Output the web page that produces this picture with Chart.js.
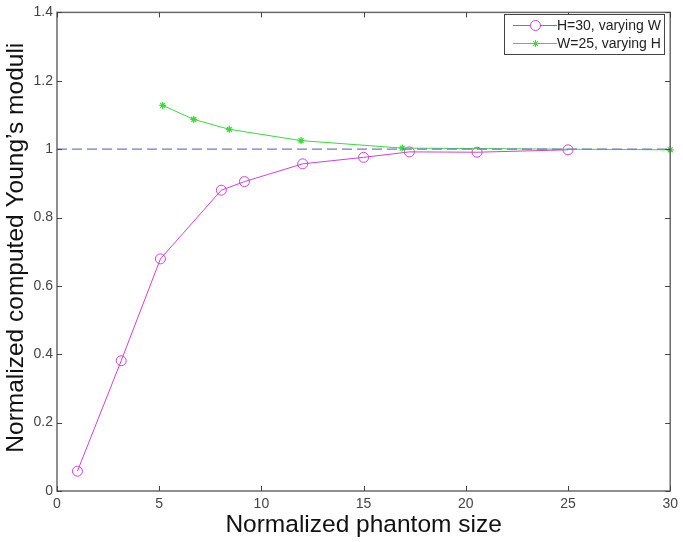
<!DOCTYPE html>
<html><head><meta charset="utf-8">
<script src="https://cdn.jsdelivr.net/npm/chart.js@4"></script>
<style>html,body{margin:0;padding:0;background:#fff}#c{display:block}</style>
</head><body>
<canvas id="c" width="683" height="542"></canvas>
<script>
const xTickValues=[0,5,10,15,20,25,30];
const yTickValues=[0,0.2,0.4,0.6,0.8,1,1.2,1.4];
const seriesNames=['H=30, varying W','W=25, varying H'];
const xH30=[1,3.14,5.06,8.04,9.17,12.02,15,17.24,20.55,25];
const yH30=[0.058,0.381,0.679,0.880,0.905,0.957,0.976,0.992,0.991,0.998];
const xW25=[5.17,6.69,8.43,11.94,16.89,30];
const yW25=[1.128,1.087,1.058,1.025,1.003,0.998];
const refX=[0,30];
const refY=[1,1];
const xTitle='Normalized phantom size';
const yTitle='Normalized computed Young\u2019s moduli';

const MAG='#d040d8', GRN='#38dc38', REF='#7676d0';
const pts=(xs,ys)=>xs.map((x,i)=>({x:x,y:ys[i]}));

const frame={
  id:'frame',
  afterDatasetsDraw(chart){
    const {ctx,chartArea:a,scales:{x,y}}=chart;
    ctx.save();
    ctx.strokeStyle='#6a6a6a';ctx.lineWidth=1.5;
    ctx.strokeRect(a.left,a.top,a.right-a.left,a.bottom-a.top);
    ctx.lineWidth=1;ctx.strokeStyle='#444';
    xTickValues.forEach(v=>{const p=Math.round(x.getPixelForValue(v))+0.5;
      ctx.beginPath();ctx.moveTo(p,a.bottom);ctx.lineTo(p,a.bottom-5);
      ctx.moveTo(p,a.top);ctx.lineTo(p,a.top+5);ctx.stroke();});
    yTickValues.forEach(v=>{const p=Math.round(y.getPixelForValue(v))+0.5;
      ctx.beginPath();ctx.moveTo(a.left,p);ctx.lineTo(a.left+5,p);
      ctx.moveTo(a.right,p);ctx.lineTo(a.right-5,p);ctx.stroke();});
    // titles
    ctx.fillStyle='#111';ctx.font='24.5px Arial, "Liberation Sans", sans-serif';
    ctx.textAlign='center';ctx.textBaseline='alphabetic';
    ctx.fillText(xTitle,(a.left+a.right)/2,532);
    ctx.translate(23,(a.top+a.bottom)/2-4);ctx.rotate(-Math.PI/2);
    ctx.fillText(yTitle,0,0);
    ctx.restore();
    // legend
    ctx.save();
    const lx=504,ly=14,lw=160,lh=40;
    ctx.fillStyle='#fff';ctx.fillRect(lx,ly,lw,lh);
    ctx.strokeStyle='#444';ctx.lineWidth=1;ctx.strokeRect(lx+0.5,ly+0.5,lw,lh);
    ctx.font='14px Arial, "Liberation Sans", sans-serif';ctx.textAlign='left';ctx.textBaseline='middle';
    const rows=[{c:MAG,s:'circle',r:5,yy:25},{c:GRN,s:'star',r:3.5,yy:43}];
    rows.forEach((r,i)=>{
      ctx.strokeStyle=r.c;ctx.lineWidth=1;
      ctx.beginPath();ctx.moveTo(513,r.yy+0.5);ctx.lineTo(557,r.yy+0.5);ctx.stroke();
      Chart.helpers.drawPoint(ctx,{pointStyle:r.s,radius:r.r,borderWidth:1.2},535.5,r.yy+0.5);
      ctx.fillStyle='#222';ctx.fillText(seriesNames[i],557,r.yy+1);
    });
    ctx.restore();
  }
};

new Chart(document.getElementById('c'),{
  type:'scatter',
  data:{datasets:[
    {label:seriesNames[0],data:pts(xH30,yH30),showLine:true,borderColor:MAG,backgroundColor:'rgba(0,0,0,0)',
     borderWidth:1,pointStyle:'circle',pointRadius:5,pointBorderWidth:1,pointBorderColor:MAG,clip:false,order:3},
    {label:seriesNames[1],data:pts(xW25,yW25),showLine:true,borderColor:GRN,backgroundColor:GRN,
     borderWidth:1,pointStyle:'star',pointRadius:3.5,pointBorderWidth:1.3,pointBorderColor:GRN,clip:false,order:2},
    {label:'ref',data:pts(refX,refY),showLine:true,borderColor:REF,borderWidth:1.4,borderDash:[10,5],
     pointRadius:0,clip:false,order:1}
  ]},
  options:{
    responsive:false,devicePixelRatio:1,animation:false,
    layout:{padding:{top:9,right:11,left:0,bottom:0}},
    plugins:{legend:{display:false},tooltip:{enabled:false}},
    scales:{
      x:{type:'linear',min:0,max:30,
        afterFit:s=>{s.height=51;},
        afterBuildTicks:s=>{s.ticks=xTickValues.map(v=>({value:v}));},
        grid:{display:false,drawTicks:false},border:{display:false},
        ticks:{color:'#444',font:{family:'Arial',size:14},padding:5,maxRotation:0,autoSkip:false,
          callback:v=>String(v)}},
      y:{type:'linear',min:0,max:1.4,
        afterFit:s=>{s.width=57;},
        afterBuildTicks:s=>{s.ticks=yTickValues.map(v=>({value:v}));},
        grid:{display:false,drawTicks:false},border:{display:false},
        ticks:{color:'#444',font:{family:'Arial',size:14},padding:4,autoSkip:false,
          callback:v=>String(Math.round(v*10)/10)}}
    }
  },
  plugins:[frame]
});
</script>
</body></html>
